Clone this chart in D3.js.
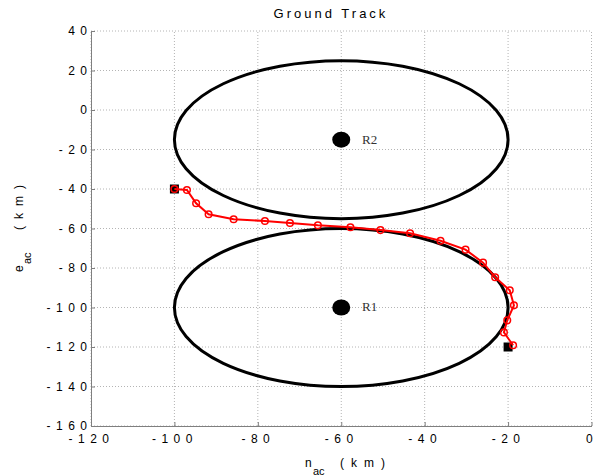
<!DOCTYPE html>
<html>
<head>
<meta charset="utf-8">
<title>Ground Track</title>
<script src="https://d3js.org/d3.v7.min.js"></script>
<style>
  body { margin: 0; padding: 0; background: #fff; }
  text { font-family: "Liberation Sans", Arial, sans-serif; }
</style>
</head>
<body>
<div id="chart"></div>
<script>
// ranges and ticks
var xTicks = [-120, -100, -80, -60, -40, -20, 0];
var yTicks = [-160, -140, -120, -100, -80, -60, -40, -20, 0, 20, 40];

// regions: centre (n, e) and radius, km
var regionNames = ["R1", "R2"];
var regionN = [-60, -60];
var regionE = [-100, -15];
var regionR = [40, 40];

// ground track (n, e)
var trackN = [-100, -97.0, -94.8, -91.8, -85.8, -78.3, -72.3, -65.6, -57.8, -50.6,
              -43.5, -36.2, -30.2, -26.0, -23.1, -19.6, -18.6, -20.2, -21.0, -18.8];
var trackE = [-40, -40.5, -47.2, -52.8, -55.3, -56.2, -57.2, -58.4, -59.4, -60.8,
              -62.4, -66.2, -70.7, -77.3, -84.7, -91.3, -98.9, -106.5, -112.6, -119.1];

// start / end points
var endN = [-100, -20];
var endE = [-40, -120];

var W = 607, H = 476;
var svg = d3.select("#chart").append("svg")
    .attr("width", W)
    .attr("height", H);

var x = d3.scaleLinear().domain([-120, 0]).range([91, 591.5]);
var y = d3.scaleLinear().domain([-160, 40]).range([426, 31]);

// grid
var grid = svg.append("g");
grid.selectAll(".gx").data(xTicks).enter().append("line")
    .attr("x1", d => x(d)).attr("x2", d => x(d))
    .attr("y1", y(-160)).attr("y2", y(40))
    .style("stroke", "#b4b4b4").style("stroke-dasharray", "1,2");
grid.selectAll(".gy").data(yTicks).enter().append("line")
    .attr("y1", d => y(d)).attr("y2", d => y(d))
    .attr("x1", x(-120)).attr("x2", x(0))
    .style("stroke", "#b4b4b4").style("stroke-dasharray", "1,2");

// axes
var ls = 5.5;
var fmt = d => (d < 0 ? "-" : "") + Math.abs(d);
var xAxis = svg.append("g")
    .attr("transform", "translate(0," + y(-160) + ")")
    .call(d3.axisBottom(x).tickValues(xTicks).tickSizeInner(-4).tickSizeOuter(0).tickPadding(8).tickFormat(fmt));
var yAxis = svg.append("g")
    .attr("transform", "translate(" + x(-120) + ",0)")
    .call(d3.axisLeft(y).tickValues(yTicks).tickSizeInner(-4).tickSizeOuter(0).tickPadding(2).tickFormat(fmt));

[xAxis, yAxis].forEach(function (a) {
    a.select(".domain").style("stroke", "#7f7f7f");
    a.selectAll(".tick line").style("stroke", "#7f7f7f");
    a.selectAll(".tick text")
        .style("font-size", "12px")
        .style("letter-spacing", ls + "px")
        .style("fill", "#000");
});
yAxis.selectAll(".tick text").attr("dx", ls - 2);

// regions
svg.selectAll(".region").data(regionN).enter().append("ellipse")
    .attr("cx", (d, i) => x(d))
    .attr("cy", (d, i) => y(regionE[i]))
    .attr("rx", (d, i) => x(regionR[i]) - x(0))
    .attr("ry", (d, i) => y(0) - y(regionR[i]))
    .style("fill", "none")
    .style("stroke", "#000")
    .style("stroke-width", 3);

svg.selectAll(".rdot").data(regionN).enter().append("ellipse")
    .attr("cx", d => x(d))
    .attr("cy", (d, i) => y(regionE[i]))
    .attr("rx", 9).attr("ry", 8)
    .style("fill", "#000");

svg.selectAll(".rlabel").data(regionNames).enter().append("text")
    .attr("x", (d, i) => x(regionN[i] + 5))
    .attr("y", (d, i) => y(regionE[i]))
    .attr("dy", "0.3em")
    .style("font-family", "'Liberation Serif', 'Times New Roman', serif")
    .style("font-size", "13px")
    .style("fill", "#333")
    .text(d => d);

// start / end markers
svg.selectAll(".endpt").data(endN).enter().append("rect")
    .attr("x", d => x(d) - 4.5)
    .attr("y", (d, i) => y(endE[i]) - 4.5)
    .attr("width", 9).attr("height", 9)
    .style("fill", "#000");

// track
var pts = trackN.map((d, i) => [d, trackE[i]]);
svg.append("path")
    .attr("d", d3.line().x(d => x(d[0])).y(d => y(d[1]))(pts))
    .style("fill", "none")
    .style("stroke", "#ff0000")
    .style("stroke-width", 2);
svg.selectAll(".tp").data(pts).enter().append("circle")
    .attr("cx", d => x(d[0]))
    .attr("cy", d => y(d[1]))
    .attr("r", 3.3)
    .style("fill", "none")
    .style("stroke", "#ff0000")
    .style("stroke-width", 1.5);

// title
svg.append("text")
    .attr("x", 331).attr("y", 18)
    .attr("text-anchor", "middle")
    .style("font-size", "13px")
    .style("letter-spacing", "3px")
    .text("Ground Track");

// axis labels
var xl = svg.append("text")
    .attr("y", 467)
    .style("font-size", "12px");
xl.append("tspan").attr("x", 305).text("n");
xl.append("tspan").attr("x", 313).attr("dy", 8).style("font-size", "11px").text("ac");
xl.append("tspan").attr("x", 340).attr("dy", -8).style("letter-spacing", "7px").text("(km)");

var yl = svg.append("text")
    .attr("transform", "translate(23,0) rotate(-90)")
    .style("font-size", "12px");
yl.append("tspan").attr("x", -272).text("e");
yl.append("tspan").attr("x", -264).attr("dy", 8).style("font-size", "11px").text("ac");
yl.append("tspan").attr("x", -230).attr("dy", -8).style("letter-spacing", "7px").text("(km)");
</script>
</body>
</html>
